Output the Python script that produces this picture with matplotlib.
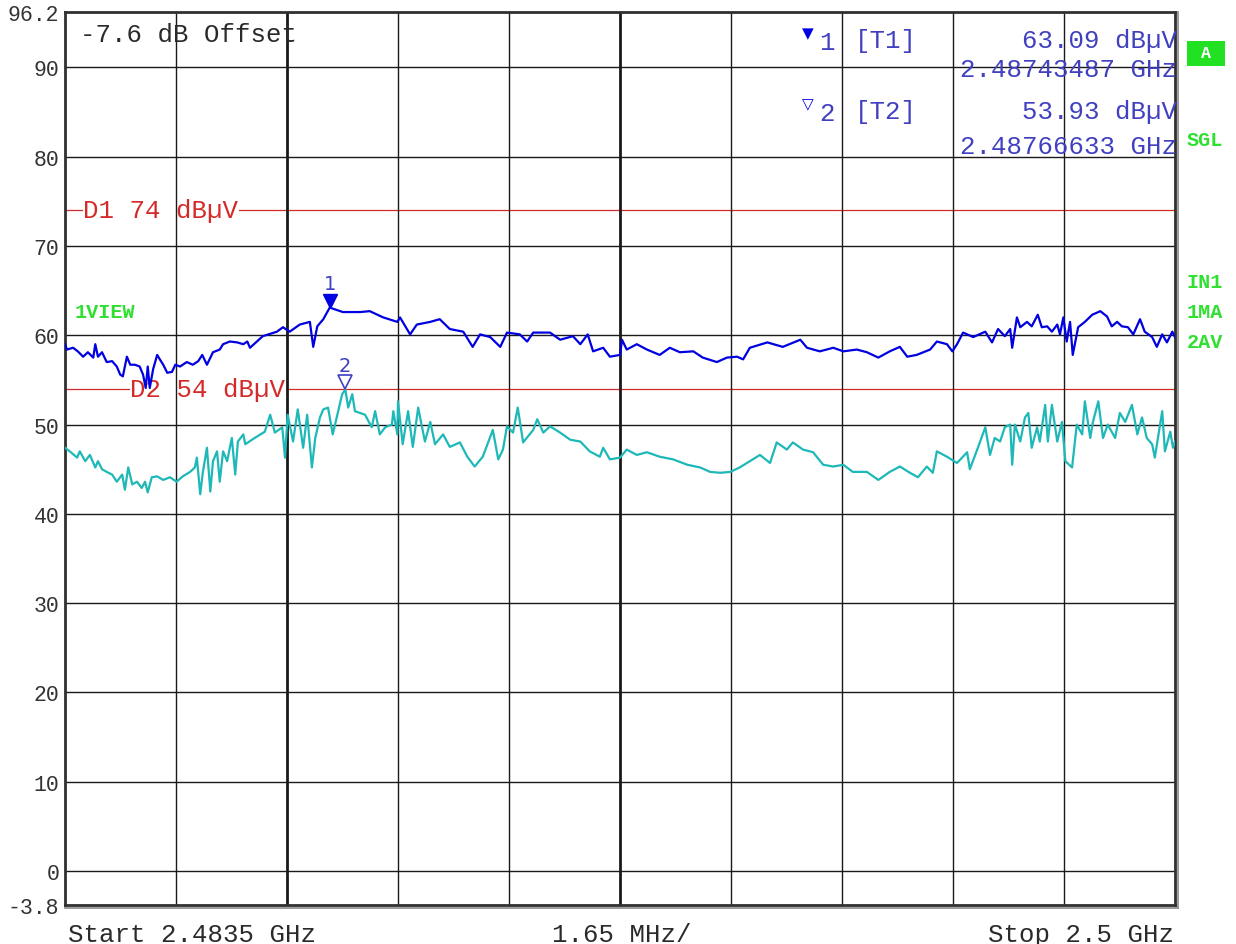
import matplotlib
matplotlib.use("Agg")
import matplotlib.pyplot as plt
import matplotlib.transforms as mtransforms
from matplotlib.patches import Rectangle
from matplotlib.lines import Line2D
import numpy as np

# sweep settings (MHz)
f_start = 2483.5
f_stop = 2500.0
span_div = 1.65

# marker readouts
mk1_freq = 2487.43487
mk1_level = 63.09
mk2_freq = 2487.66633
mk2_level = 53.93

# display lines (dBuV)
d1_level = 74
d2_level = 54

# y axis
y_min, y_max = -3.8, 96.2
y_grid = [0, 10, 20, 30, 40, 50, 60, 70, 80, 90]
y_ticks = [-3.8, 0, 10, 20, 30, 40, 50, 60, 70, 80, 90, 96.2]
y_labels = ["-3.8", "0", "10", "20", "30", "40", "50", "60", "70", "80", "90", "96.2"]

# trace 1: max peak, offset from start (MHz) and level (dBuV)
pk_off = [0.00, 0.03, 0.12, 0.19, 0.27, 0.34, 0.42, 0.45, 0.49, 0.55, 0.62, 0.70,
          0.77, 0.82, 0.86, 0.92, 0.97, 1.04, 1.11, 1.16, 1.20, 1.23, 1.26, 1.31,
          1.37, 1.41, 1.46, 1.52, 1.59, 1.64, 1.71, 1.81, 1.90, 1.98, 2.04, 2.11,
          2.20, 2.30, 2.35, 2.45, 2.56, 2.65, 2.71, 2.75,
          2.94, 3.15, 3.24, 3.34, 3.49, 3.64, 3.69, 3.75, 3.84, 3.935, 4.13, 4.39,
          4.53, 4.73, 4.94, 4.98, 5.13, 5.23, 5.43, 5.57, 5.72, 5.92, 6.06, 6.17,
          6.32, 6.47, 6.57, 6.76, 6.87, 6.96, 7.21, 7.36, 7.55, 7.66, 7.77, 7.85,
          8.00, 8.10, 8.25, 8.28, 8.35, 8.50, 8.65, 8.84, 8.99, 9.14, 9.34, 9.48,
          9.69, 9.84, 9.99, 10.08, 10.18, 10.44, 10.67, 10.93, 11.03, 11.22, 11.42,
          11.57, 11.77, 11.92, 12.09, 12.26, 12.41, 12.52, 12.66, 12.86, 12.96,
          13.11, 13.19, 13.26, 13.35, 13.50,
          13.68, 13.78, 13.87, 13.97, 14.05, 14.08, 14.15, 14.20, 14.30, 14.37,
          14.46, 14.52, 14.60, 14.67, 14.75, 14.79, 14.84, 14.89, 14.94, 14.98,
          15.06, 15.16, 15.27, 15.39, 15.49, 15.56, 15.64, 15.71, 15.80, 15.88,
          15.98, 16.05, 16.16, 16.23, 16.31, 16.38, 16.46, 16.50]
pk_lvl = [59.0, 58.4, 58.6, 58.2, 57.6, 58.1, 57.5, 59.0, 57.6, 58.1, 57.0, 57.1,
          56.5, 55.6, 55.4, 57.6, 56.7, 56.7, 56.5, 55.6, 54.1, 56.5, 54.1, 56.2,
          57.8, 57.3, 56.7, 55.8, 55.9, 56.7, 56.5, 57.0, 56.7, 57.1, 57.8, 56.7,
          58.1, 58.4, 59.0, 59.3, 59.2, 59.0, 59.3, 58.6,
          59.9, 60.4, 60.9, 60.4, 61.2, 61.5, 58.7, 61.0, 61.8, 63.1, 62.6, 62.6,
          62.7, 62.0, 61.5, 62.0, 60.1, 61.2, 61.5, 61.8, 60.7, 60.4, 58.7, 60.1,
          59.8, 58.7, 60.3, 60.1, 59.3, 60.3, 60.3, 59.5, 59.9, 59.0, 60.1, 58.2,
          58.6, 57.6, 57.8, 59.5, 58.4, 59.0, 58.4, 57.8, 58.6, 58.1, 58.2, 57.5,
          57.0, 57.5, 57.6, 57.3, 58.6, 59.2, 58.7, 59.5, 58.6, 58.2, 58.6,
          58.2, 58.4, 58.1, 57.5, 58.2, 58.7, 57.6, 57.8, 58.4, 59.3,
          59.0, 58.2, 59.0, 60.3, 59.8,
          60.4, 59.2, 60.7, 59.9, 60.7, 58.6, 62.0, 60.9, 61.5, 61.0,
          62.3, 60.9, 61.0, 60.4, 61.2, 60.1, 62.0, 59.3, 61.5, 57.8,
          60.9, 61.5, 62.3, 62.7, 62.1, 61.0, 61.5, 61.0, 60.9, 60.1,
          61.8, 60.4, 59.8, 58.7, 60.1, 59.2, 60.4, 59.8]

# trace 2: average
av_off = [0.00, 0.07, 0.18, 0.22, 0.30, 0.37, 0.45, 0.49, 0.55, 0.62, 0.70, 0.77,
          0.85, 0.89, 0.94, 1.00, 1.07, 1.14, 1.19, 1.23, 1.29, 1.37, 1.46, 1.56,
          1.66, 1.75, 1.86, 1.93, 1.96, 2.01, 2.05, 2.11, 2.16, 2.20, 2.26, 2.30,
          2.35, 2.41, 2.48, 2.53, 2.57, 2.65,
          2.68, 2.82, 2.97, 3.05, 3.12, 3.23, 3.27, 3.31, 3.39, 3.46,
          3.54, 3.60, 3.67, 3.72, 3.79, 3.84, 3.91, 3.98, 4.06, 4.12,
          4.167, 4.21, 4.27, 4.31, 4.46, 4.56, 4.61, 4.68, 4.76, 4.86,
          4.88, 4.94, 4.95, 5.02, 5.10, 5.17, 5.25, 5.35, 5.43, 5.50,
          5.62, 5.72, 5.87, 5.98, 6.09, 6.21, 6.36, 6.44, 6.51, 6.57, 6.66, 6.73, 6.81,
          6.96, 7.02, 7.11, 7.21, 7.36, 7.51, 7.66, 7.80, 7.95, 8.00, 8.10, 8.25, 8.35,
          8.50, 8.65, 8.84, 9.04, 9.25, 9.44, 9.59, 9.74, 9.89, 10.03, 10.18, 10.33,
          10.48, 10.58, 10.73, 10.82, 10.97, 11.12, 11.27, 11.42, 11.57, 11.71, 11.92,
          12.09, 12.26, 12.41, 12.56, 12.68, 12.81, 12.90, 12.96, 13.11, 13.26, 13.41,
          13.45, 13.56,
          13.68, 13.75, 13.82, 13.90, 13.97, 14.05, 14.08, 14.12, 14.20, 14.27,
          14.32, 14.37, 14.45, 14.49, 14.57, 14.61, 14.67, 14.75, 14.82, 14.87,
          14.97, 15.04, 15.12, 15.16, 15.24, 15.28, 15.36, 15.43, 15.50, 15.61,
          15.68, 15.76, 15.86, 15.94, 16.01, 16.08, 16.16, 16.20, 16.31, 16.35,
          16.43, 16.47, 16.50]
av_lvl = [47.4, 47.0, 46.3, 47.0, 45.9, 46.6, 45.2, 45.9, 45.0, 44.7, 44.4, 43.6,
          44.4, 42.7, 45.2, 43.3, 43.6, 42.9, 43.6, 42.4, 44.1, 44.2, 43.8, 44.1,
          43.6, 44.2, 44.7, 45.2, 46.3, 42.2, 44.7, 47.4, 42.5, 45.9, 47.0, 43.6,
          47.0, 45.9, 48.5, 44.4, 48.1, 48.9,
          47.8, 48.5, 49.2, 51.1, 49.1, 49.7, 46.3, 51.1, 48.1, 51.7,
          47.4, 51.1, 45.2, 48.5, 50.8, 51.7, 51.9, 48.9, 51.5, 53.4,
          53.93, 51.9, 53.4, 51.5, 51.1, 49.7, 51.5, 48.9, 49.7, 50.0,
          51.5, 48.9, 52.6, 47.8, 51.5, 47.5, 51.9, 48.1, 50.3, 47.8,
          48.9, 47.5, 48.0, 46.4, 45.3, 46.4, 49.4, 46.1, 47.2, 49.8, 49.1, 51.9, 48.0,
          49.4, 50.6, 49.1, 49.8, 49.1, 48.3, 48.1, 47.0, 46.4, 47.4, 46.1, 46.3, 47.2,
          46.6, 46.9, 46.4, 46.1, 45.5, 45.2, 44.7, 44.6, 44.7, 45.2, 45.9, 46.6,
          45.7, 48.0, 47.2, 48.0, 47.2, 46.9, 45.5, 45.3, 45.5, 44.7, 44.7,
          43.8, 44.7, 45.3, 44.6, 44.1, 45.3, 44.6, 47.0, 46.4, 45.7, 46.9,
          45.0, 47.2,
          49.7, 46.6, 48.5, 48.1, 49.7, 50.0, 45.5, 50.0, 48.1, 50.8,
          51.3, 47.4, 49.7, 48.1, 52.2, 48.1, 52.2, 48.1, 50.3, 45.9,
          45.2, 50.0, 48.9, 52.6, 48.5, 50.3, 52.6, 48.5, 50.0, 48.5,
          51.3, 50.3, 52.2, 48.9, 50.8, 48.5, 47.8, 46.3, 51.5, 47.0,
          49.2, 47.4, 48.1]

BLUE = "#0000e0"
CYAN = "#1fb8b8"
RED = "#d42a2a"
TXT_BLUE = "#4040c0"
GREEN = "#30e030"
TXT = "#2a2a2a"
MONO = "Liberation Mono"
FS = 18.5

W, H = 1236, 945
fig = plt.figure(figsize=(W / 100, H / 100), dpi=100)
fig.patch.set_facecolor("white")
ax = fig.add_axes([65 / W, (H - 906) / H, (1175 - 65) / W, (906 - 13) / H])


def fpos(x, y):
    # pixel position -> figure fraction
    return x / W, 1 - y / H


ax.set_xlim(f_start, f_stop)
ax.set_ylim(y_min, y_max)

# graticule
for yv in y_grid:
    ax.axhline(yv, color="#1a1a1a", lw=1.0, zorder=2)
for i in range(1, 10):
    lw = 2.0 if i in (2, 5) else 1.0
    ax.axvline(f_start + i * span_div, color="#1a1a1a", lw=lw, zorder=2)

# display lines
ax.axhline(d1_level, color=RED, lw=0.9, zorder=1)
ax.axhline(d2_level, color=RED, lw=0.9, zorder=1)
ax.text(f_start + 0.27, d1_level, "D1 74 dBµV", color=RED, family=MONO, fontsize=FS,
        va="center", ha="left", zorder=1.5,
        bbox=dict(facecolor="white", edgecolor="none", pad=0.3))
ax.text(f_start + 0.97, d2_level, "D2 54 dBµV", color=RED, family=MONO, fontsize=FS,
        va="center", ha="left", zorder=1.5,
        bbox=dict(facecolor="white", edgecolor="none", pad=0.3))

# traces
ax.plot(f_start + np.array(pk_off), pk_lvl, color=BLUE, lw=1.6, zorder=3)
ax.plot(f_start + np.array(av_off), av_lvl, color=CYAN, lw=1.6, zorder=3)

# markers sitting on the trace
up = mtransforms.ScaledTranslation(0, 7 / 100, fig.dpi_scale_trans)
ax.plot([mk1_freq], [mk1_level], marker="v", ms=10, color=BLUE,
        transform=ax.transData + up, zorder=4, clip_on=False)
ax.plot([mk2_freq], [mk2_level], marker="v", ms=10, mfc="white", mec=TXT_BLUE,
        mew=1.2, transform=ax.transData + up, zorder=4, clip_on=False)
up2 = mtransforms.ScaledTranslation(0, 24 / 100, fig.dpi_scale_trans)
ax.text(mk1_freq, mk1_level, "1", color=TXT_BLUE, fontsize=14, ha="center",
        va="center", transform=ax.transData + up2, family="DejaVu Sans")
ax.text(mk2_freq, mk2_level, "2", color=TXT_BLUE, fontsize=14, ha="center",
        va="center", transform=ax.transData + up2, family="DejaVu Sans")

# axes styling
ax.set_xticks([])
ax.set_yticks(y_ticks)
ax.set_yticklabels(y_labels, family=MONO, fontsize=15.5, color="#333333")
ax.tick_params(axis="y", length=0, pad=4)
for sp in ax.spines.values():
    sp.set_color("#303030")
    sp.set_linewidth(2.0)
# shadow of the screen frame
fig.add_artist(Line2D([1178 / W, 1178 / W], [1 - 13 / H, 1 - 909 / H],
                      color="#8a8a8a", lw=1.2))
fig.add_artist(Line2D([65 / W, 1178 / W], [1 - 909 / H, 1 - 909 / H],
                      color="#8a8a8a", lw=1.2))

# annotations inside the screen
fig.text(*fpos(80, 35), "-7.6 dB Offset", family=MONO, fontsize=FS, color=TXT,
         va="center", ha="left")
fig.text(*fpos(75, 313), "1VIEW", family=MONO, fontsize=14.5, fontweight="bold",
         color=GREEN, va="center", ha="left")

# marker table
fig.text(*fpos(808, 34), "▼", family="DejaVu Sans", fontsize=11, color=BLUE,
         va="center", ha="center")
fig.text(*fpos(808, 105), "▽", family="DejaVu Sans", fontsize=11, color=BLUE,
         va="center", ha="center")
fig.text(*fpos(819, 43), "1", family=MONO, fontsize=FS, color=TXT_BLUE, va="center")
fig.text(*fpos(819, 114), "2", family=MONO, fontsize=FS, color=TXT_BLUE, va="center")
fig.text(*fpos(855, 41), "[T1]", family=MONO, fontsize=FS, color=TXT_BLUE, va="center")
fig.text(*fpos(855, 112), "[T2]", family=MONO, fontsize=FS, color=TXT_BLUE, va="center")
fig.text(*fpos(1177, 41), "%.2f dBµV" % mk1_level, family=MONO, fontsize=FS,
         color=TXT_BLUE, va="center", ha="right")
fig.text(*fpos(1177, 70), "%.8f GHz" % (mk1_freq / 1000), family=MONO, fontsize=FS,
         color=TXT_BLUE, va="center", ha="right")
fig.text(*fpos(1177, 112), "%.2f dBµV" % mk2_level, family=MONO, fontsize=FS,
         color=TXT_BLUE, va="center", ha="right")
fig.text(*fpos(1177, 147), "%.8f GHz" % (mk2_freq / 1000), family=MONO, fontsize=FS,
         color=TXT_BLUE, va="center", ha="right")

# side labels
fig.add_artist(Rectangle((1187 / W, 1 - 67 / H), 38 / W, 25 / H,
                         transform=fig.transFigure, facecolor="#22e022",
                         edgecolor="none"))
fig.text(*fpos(1206, 54), "A", family=MONO, fontsize=12, fontweight="bold",
         color="white", va="center", ha="center")
for lbl, yy in [("SGL", 140), ("IN1", 283), ("1MA", 313), ("2AV", 342)]:
    fig.text(*fpos(1187, yy), lbl, family=MONO, fontsize=14.5, fontweight="bold",
             color=GREEN, va="center", ha="left")

# sweep info
fig.text(*fpos(68, 935), "Start %.4f GHz" % (f_start / 1000), family=MONO,
         fontsize=FS, color=TXT, va="center", ha="left")
fig.text(*fpos(622, 935), "%.2f MHz/" % span_div, family=MONO, fontsize=FS,
         color=TXT, va="center", ha="center")
fig.text(*fpos(1174, 935), "Stop %.1f GHz" % (f_stop / 1000), family=MONO,
         fontsize=FS, color=TXT, va="center", ha="right")

fig.savefig("out.png", dpi=100, facecolor="white")
